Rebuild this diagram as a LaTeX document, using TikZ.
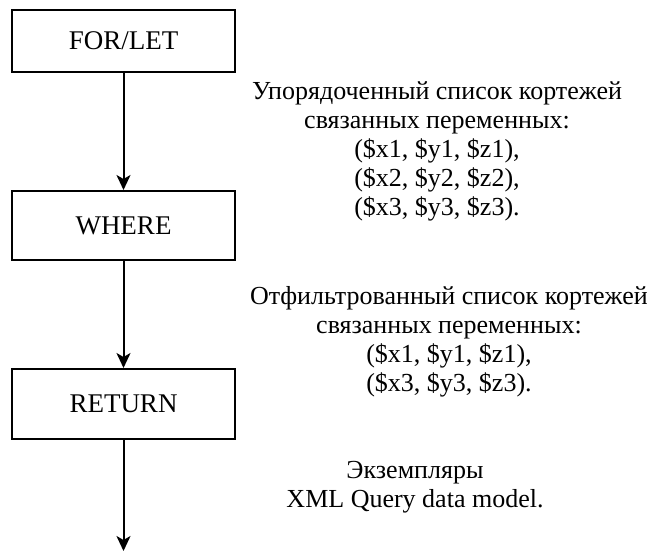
\documentclass[tikz,border=0pt]{standalone}
\usepackage{fontspec}
\setmainfont{Liberation Serif}
\usetikzlibrary{arrows.meta}
\begin{document}
\begin{tikzpicture}[x=1pt,y=-1pt,
  stepbox/.style={draw,line width=2pt,minimum width=223pt,inner sep=0pt,
    font=\fontsize{27}{30}\selectfont},
  note/.style={align=center,inner sep=0pt,font=\fontsize{26}{29}\selectfont},
  flow/.style={line width=2pt,-{Stealth[length=15pt,width=14pt,inset=4pt]}}]
\fill[white] (0,0) rectangle (647,551);
\useasboundingbox (0,0) rectangle (647,551);
\node[stepbox,minimum height=62pt] (for) at (123.5,41) {FOR/LET};
\node[stepbox,minimum height=69pt] (where) at (123.5,225.5) {WHERE};
\node[stepbox,minimum height=70pt] (ret) at (123.5,404) {RETURN};
\coordinate (end) at (123.5,551);
\draw[flow] (for.south) -- (where.north);
\draw[flow] (where.south) -- (ret.north);
\draw[flow] (ret.south) -- (end);
\node[note] (n1) at (437,151) {Упорядоченный список кортежей\\связанных переменных:\\(\$x1, \$y1, \$z1),\\(\$x2, \$y2, \$z2),\\(\$x3, \$y3, \$z3).};
\node[note] (n2) at (449,342) {Отфильтрованный список кортежей\\связанных переменных:\\(\$x1, \$y1, \$z1),\\(\$x3, \$y3, \$z3).};
\node[note] (n3) at (415,487) {Экземпляры\\XML Query data model.};
\end{tikzpicture}
\end{document}
